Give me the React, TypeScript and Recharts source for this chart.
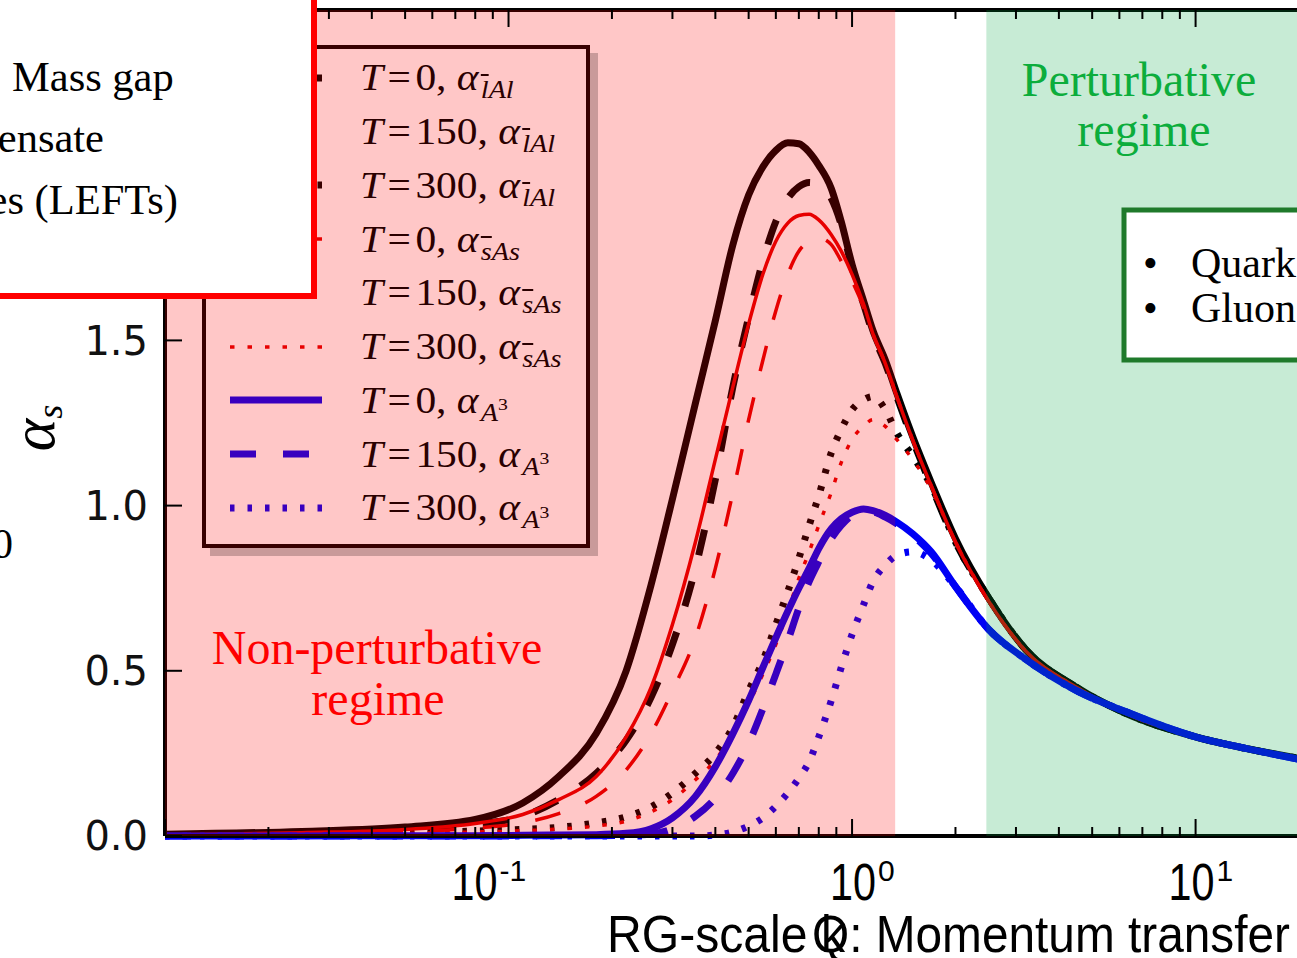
import React from 'react';
import { LineChart, Line, XAxis, YAxis, ReferenceArea } from 'recharts';

const W = 1297;
const H = 958;
const PLOT_LEFT = 165;
const PLOT_TOP = 10;
const PLOT_RIGHT = 1299;
const PLOT_BOTTOM = 836;

// RG scale grid (GeV)
const qGrid = [0.01, 0.025, 0.05, 0.08, 0.11, 0.14, 0.18, 0.22, 0.26, 0.3, 0.35, 0.4, 0.45, 0.5, 0.55, 0.6, 0.65, 0.7, 0.75, 0.8, 0.87, 0.93, 1.0, 1.08, 1.15, 1.25, 1.35, 1.5, 1.7, 2.0, 2.5, 3.2, 4.5, 6.3, 10, 14, 20];

// alpha_lAl
const lAlT0 = [0.005, 0.014, 0.027, 0.05, 0.10, 0.18, 0.31, 0.50, 0.76, 1.02, 1.31, 1.56, 1.79, 1.94, 2.025, 2.075, 2.098, 2.095, 2.07, 2.03, 1.96, 1.86, 1.73, 1.62, 1.53, 1.44, 1.34, 1.21, 1.07, 0.90, 0.72, 0.565, 0.45, 0.37, 0.30, 0.265, 0.235];
const lAlT150 = [0.003, 0.01, 0.02, 0.035, 0.06, 0.11, 0.19, 0.29, 0.42, 0.58, 0.81, 1.08, 1.36, 1.57, 1.74, 1.86, 1.93, 1.965, 1.978, 1.97, 1.93, 1.85, 1.72, 1.61, 1.52, 1.43, 1.33, 1.20, 1.06, 0.89, 0.72, 0.565, 0.45, 0.37, 0.30, 0.265, 0.235];
const lAlT300 = [0.002, 0.005, 0.01, 0.015, 0.02, 0.026, 0.04, 0.058, 0.088, 0.13, 0.19, 0.25, 0.33, 0.44, 0.53, 0.64, 0.74, 0.84, 0.94, 1.03, 1.16, 1.23, 1.29, 1.32, 1.33, 1.29, 1.22, 1.15, 1.06, 0.89, 0.72, 0.565, 0.45, 0.37, 0.30, 0.265, 0.235];

// alpha_sAs
const sAsT0 = [0.003, 0.01, 0.02, 0.038, 0.065, 0.11, 0.18, 0.30, 0.45, 0.64, 0.89, 1.14, 1.36, 1.55, 1.70, 1.80, 1.855, 1.878, 1.882, 1.865, 1.82, 1.77, 1.70, 1.61, 1.52, 1.43, 1.33, 1.20, 1.06, 0.89, 0.71, 0.56, 0.45, 0.37, 0.30, 0.265, 0.234];
const sAsT150 = [0.002, 0.006, 0.012, 0.024, 0.04, 0.068, 0.12, 0.20, 0.31, 0.44, 0.60, 0.81, 1.04, 1.26, 1.44, 1.59, 1.70, 1.77, 1.80, 1.81, 1.79, 1.74, 1.68, 1.60, 1.52, 1.43, 1.33, 1.20, 1.06, 0.89, 0.71, 0.56, 0.45, 0.37, 0.30, 0.265, 0.234];
const sAsT300 = [0.002, 0.004, 0.008, 0.012, 0.016, 0.021, 0.03, 0.045, 0.073, 0.11, 0.17, 0.23, 0.31, 0.40, 0.49, 0.58, 0.68, 0.78, 0.86, 0.94, 1.04, 1.13, 1.20, 1.24, 1.26, 1.24, 1.20, 1.14, 1.05, 0.89, 0.71, 0.56, 0.45, 0.37, 0.30, 0.265, 0.234];

// alpha_A3
const a3T0 = [0, 0, 0.001, 0.001, 0.002, 0.003, 0.004, 0.008, 0.022, 0.055, 0.12, 0.21, 0.31, 0.41, 0.51, 0.60, 0.68, 0.75, 0.81, 0.87, 0.93, 0.96, 0.98, 0.99, 0.985, 0.97, 0.95, 0.915, 0.86, 0.755, 0.625, 0.535, 0.44, 0.375, 0.30, 0.265, 0.232];
const a3T150 = [0, 0, 0, 0, 0, 0.001, 0.001, 0.002, 0.006, 0.022, 0.06, 0.115, 0.19, 0.28, 0.385, 0.49, 0.59, 0.69, 0.77, 0.83, 0.90, 0.94, 0.97, 0.98, 0.98, 0.965, 0.945, 0.91, 0.855, 0.755, 0.625, 0.535, 0.44, 0.375, 0.30, 0.265, 0.232];
const a3T300 = [0, 0, 0, 0, 0, 0, 0, 0, 0, 0, 0, 0.003, 0.012, 0.03, 0.055, 0.09, 0.13, 0.175, 0.225, 0.30, 0.41, 0.51, 0.61, 0.70, 0.77, 0.82, 0.85, 0.86, 0.835, 0.755, 0.625, 0.535, 0.44, 0.375, 0.30, 0.265, 0.232];

const xTicks = [
  0.01, 0.02, 0.03, 0.04, 0.05, 0.06, 0.07, 0.08, 0.09,
  0.1, 0.2, 0.3, 0.4, 0.5, 0.6, 0.7, 0.8, 0.9,
  1, 2, 3, 4, 5, 6, 7, 8, 9,
  10, 20,
];
const yTicks = [0, 0.5, 1, 1.5, 2, 2.5];

// regime boundaries
const nonPertEnd = 1.335;
const pertStart = 2.46;

const BLACK = '#000000';
const RED = '#e00000';
const BLUE = '#0000f5';
const DASH = '26 27';
const DOT = '4.5 13';

const SERIES = [
  { key: 'lAl0', values: lAlT0, color: BLACK, width: 7, dash: undefined, temp: '0', sub: 'lAl' },
  { key: 'lAl150', values: lAlT150, color: BLACK, width: 7, dash: DASH, temp: '150', sub: 'lAl' },
  { key: 'lAl300', values: lAlT300, color: BLACK, width: 7, dash: DOT, temp: '300', sub: 'lAl' },
  { key: 'sAs0', values: sAsT0, color: RED, width: 3.5, dash: undefined, temp: '0', sub: 'sAs' },
  { key: 'sAs150', values: sAsT150, color: RED, width: 3.5, dash: DASH, temp: '150', sub: 'sAs' },
  { key: 'sAs300', values: sAsT300, color: RED, width: 3.5, dash: DOT, temp: '300', sub: 'sAs' },
  { key: 'a30', values: a3T0, color: BLUE, width: 7, dash: undefined, temp: '0', sub: 'A3' },
  { key: 'a3150', values: a3T150, color: BLUE, width: 7, dash: DASH, temp: '150', sub: 'A3' },
  { key: 'a3300', values: a3T300, color: BLUE, width: 7, dash: DOT, temp: '300', sub: 'A3' },
];

const rows = qGrid.map((q, i) => {
  const row: Record<string, number> = { q };
  SERIES.forEach(s => { row[s.key] = s.values[i]; });
  return row;
});

// colour seen through the translucent red band
const PINK_ALPHA = 0.22;
const tint = (hex: string) => {
  const n = parseInt(hex.slice(1), 16);
  const r = (n >> 16) & 255, g = (n >> 8) & 255, b = n & 255;
  const k = 1 - PINK_ALPHA;
  return `rgb(${Math.round(r * k + 255 * PINK_ALPHA)},${Math.round(g * k)},${Math.round(b * k)})`;
};

const isDecade = (v: number) => Math.abs(Math.log10(v) - Math.round(Math.log10(v))) < 1e-6;
const LABEL_NUDGE: Record<number, number> = { [-1]: -34, 0: 1, 1: -4 };
const NARROW = '"Liberation Sans Narrow", "Liberation Sans", Arial, sans-serif';

const BottomTick = (props: any) => {
  const { x, payload } = props;
  const v = payload.value;
  const major = isDecade(v);
  const exp = Math.round(Math.log10(v));
  const showLabel = major && exp >= -1;
  const cx = x + (LABEL_NUDGE[exp] || 0);
  return (
    <g>
      <line x1={x} x2={x} y1={PLOT_BOTTOM} y2={PLOT_BOTTOM - (major ? 17 : 9)} stroke="#000" strokeWidth={2} />
      {showLabel && (
        <g fontFamily={NARROW} fill="#000">
          <text x={cx} y={900} fontSize={52} textAnchor="middle" textLength={46} lengthAdjust="spacingAndGlyphs">10</text>
          <text x={cx + 25} y={881} fontSize={30} textAnchor="start">{exp}</text>
        </g>
      )}
    </g>
  );
};

const TopTick = (props: any) => {
  const { x, payload } = props;
  const major = isDecade(payload.value);
  return <line x1={x} x2={x} y1={PLOT_TOP} y2={PLOT_TOP + (major ? 17 : 9)} stroke="#000" strokeWidth={2} />;
};

const LeftTick = (props: any) => {
  const { y, payload } = props;
  return (
    <g>
      <line x1={PLOT_LEFT} x2={PLOT_LEFT + 17} y1={y} y2={y} stroke="#000" strokeWidth={2} />
      <text x={148} y={y} dy="0.36em" textAnchor="end" fontSize={40} fontFamily="DejaVu Sans" fill="#111">
        {Number(payload.value).toFixed(1)}
      </text>
    </g>
  );
};

const RightTick = (props: any) => {
  const { y } = props;
  return <line x1={PLOT_RIGHT - 17} x2={PLOT_RIGHT} y1={y} y2={y} stroke="#000" strokeWidth={2} />;
};

const Subscript = ({ sub }: { sub: string }) => {
  const subStyle: React.CSSProperties = { fontSize: '0.68em', fontStyle: 'italic', position: 'relative', top: '0.32em', marginLeft: 2 };
  if (sub === 'A3') {
    return (
      <span style={subStyle}>
        A<span style={{ fontSize: '0.7em', position: 'relative', top: '-0.6em', fontStyle: 'normal' }}>3</span>
      </span>
    );
  }
  const first = sub[0];
  return (
    <span style={subStyle}>
      <span style={{ textDecoration: 'overline' }}>{first}</span>
      {sub.slice(1)}
    </span>
  );
};

const LegendBox = () => (
  <div
    style={{
      position: 'absolute', left: 202, top: 45, width: 388, height: 503,
      boxSizing: 'border-box', border: '4px solid #380000', background: '#ffc7c7',
      boxShadow: '8px 8px 0 #c99a9a', paddingTop: 2,
    }}
  >
    {SERIES.map(s => (
      <div key={s.key} style={{ height: 53.75, display: 'flex', alignItems: 'center' }}>
        <svg width={92} height={20} style={{ marginLeft: 24, marginRight: 38, flex: 'none' }}>
          <line x1={0} x2={92} y1={10} y2={10} stroke={tint(s.color)} strokeWidth={s.width} strokeDasharray={s.dash} />
        </svg>
        <span
          style={{
            fontFamily: '"Liberation Serif", serif', fontSize: 37, color: '#2a0000',
            whiteSpace: 'nowrap', display: 'inline-block', transform: 'scaleX(1.12)', transformOrigin: 'left center',
            lineHeight: 1,
          }}
        >
          <i>T</i><span style={{ margin: '0 4px' }}>=</span>{s.temp}, <i>α</i><Subscript sub={s.sub} />
        </span>
      </div>
    ))}
  </div>
);

const SERIF = '"Liberation Serif", "Times New Roman", serif';

const Annotations = () => (
  <svg width={W} height={H} style={{ position: 'absolute', left: 0, top: 0, pointerEvents: 'none' }}>
    {/* y-axis title */}
    <text transform="translate(54,428) rotate(-90)" textAnchor="middle" fontFamily={SERIF} fontStyle="italic" fontSize={62} fill="#000">
      α<tspan fontSize={36} dy={8}>s</tspan>
    </text>
    <text x={13} y={558} textAnchor="end" fontFamily={SERIF} fontSize={42} fill="#000">0</text>

    {/* regime labels */}
    <g fontFamily={SERIF} fontSize={48} textAnchor="middle">
      <text x={377} y={664} fill="#ff0000">Non-perturbative</text>
      <text x={378} y={715} fill="#ff0000">regime</text>
      <text x={1139} y={96} fill="#0cad3c">Perturbative</text>
      <text x={1144} y={146} fill="#0cad3c">regime</text>
    </g>

    {/* x-axis titles */}
    <g fontFamily={NARROW} fontSize={52} fill="#000">
      <text x={607} y={952} textLength={238} lengthAdjust="spacingAndGlyphs">RG-scale k</text>
      <text x={812} y={952} textLength={478} lengthAdjust="spacingAndGlyphs">Q: Momentum transfer</text>
    </g>

    {/* boxed notes */}
    <rect x={-20} y={-20} width={334} height={316} fill="#fff" stroke="#ff0000" strokeWidth={6} />
    <g fontFamily={SERIF} fontSize={42.5} fill="#000">
      <text x={12} y={91}>Mass gap</text>
      <text x={104} y={152} textAnchor="end">Condensate</text>
      <text x={178} y={214} textAnchor="end">theories (LEFTs)</text>
    </g>

    <rect x={1124} y={210} width={300} height={150} fill="#fff" stroke="#1f7a2b" strokeWidth={5} />
    <g fontFamily={SERIF} fontSize={42} fill="#000">
      <text x={1143} y={277}>•</text>
      <text x={1191} y={277}>Quark</text>
      <text x={1143} y={322}>•</text>
      <text x={1191} y={322}>Gluon</text>
    </g>
  </svg>
);

export default function App() {
  return (
    <div style={{ position: 'fixed', left: 0, top: 0, width: W, height: H, overflow: 'hidden', background: '#fff' }}>
      <div style={{ position: 'absolute', left: 0, top: 0 }}>
        <LineChart width={1320} height={H} data={rows} margin={{ top: 0, right: 0, bottom: 0, left: 0 }}>
          <XAxis
            xAxisId="b" dataKey="q" type="number" scale="log" domain={[0.01, 20]} allowDataOverflow
            ticks={xTicks} interval={0} tickLine={false} tick={(p: any) => <BottomTick {...p} />}
            axisLine={{ stroke: '#000', strokeWidth: 4 }} height={122}
          />
          <XAxis
            xAxisId="t" orientation="top" dataKey="q" type="number" scale="log" domain={[0.01, 20]} allowDataOverflow
            ticks={xTicks} interval={0} tickLine={false} tick={(p: any) => <TopTick {...p} />}
            axisLine={{ stroke: '#000', strokeWidth: 4 }} height={PLOT_TOP}
          />
          <YAxis
            yAxisId="l" type="number" domain={[0, 2.5]} ticks={yTicks} interval={0} tickLine={false}
            tick={(p: any) => <LeftTick {...p} />} axisLine={{ stroke: '#000', strokeWidth: 4 }} width={PLOT_LEFT}
          />
          <YAxis
            yAxisId="r" orientation="right" type="number" domain={[0, 2.5]} ticks={yTicks} interval={0} tickLine={false}
            tick={(p: any) => <RightTick {...p} />} axisLine={{ stroke: '#000', strokeWidth: 4 }} width={1320 - PLOT_RIGHT}
          />
          {SERIES.map(s => (
            <Line
              key={s.key}
              xAxisId="b"
              yAxisId="l"
              dataKey={s.key}
              type="monotone"
              stroke={s.color}
              strokeWidth={s.width}
              strokeDasharray={s.dash}
              strokeLinecap="butt"
              dot={false}
              activeDot={false}
              isAnimationActive={false}
            />
          ))}
          {/* translucent bands sit above the curves */}
          <ReferenceArea
            xAxisId="b" yAxisId="l" x1={0.01} x2={nonPertEnd} y1={0} y2={2.5}
            fill="#ff0000" fillOpacity={PINK_ALPHA} stroke="none" ifOverflow="hidden" zIndex={600}
          />
          <ReferenceArea
            xAxisId="b" yAxisId="l" x1={pertStart} x2={20} y1={0} y2={2.5}
            fill="#00a640" fillOpacity={0.22} stroke="none" ifOverflow="hidden" zIndex={600}
          />
        </LineChart>
      </div>
      <LegendBox />
      <Annotations />
    </div>
  );
}
